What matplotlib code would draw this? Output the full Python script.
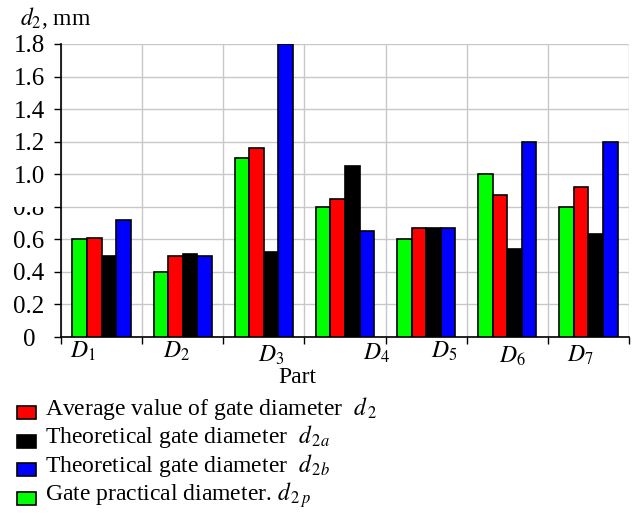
import matplotlib
matplotlib.use('Agg')
from matplotlib import pyplot as plt
from matplotlib.patches import Rectangle
from matplotlib.transforms import Bbox
import numpy as np

parts = ['$D_1$', '$D_2$', '$D_3$', '$D_4$', '$D_5$', '$D_6$', '$D_7$']
# part label positions as drawn in the reference (category units, px below axis)
label_x = [-0.23, 0.93, 2.09, 3.39, 4.22, 5.06, 5.90]
label_dy = [21, 21, 25, 23, 21, 26, 25]

d2p = [0.60, 0.40, 1.10, 0.80, 0.60, 1.00, 0.80]   # green
d2 = [0.61, 0.50, 1.16, 0.85, 0.67, 0.87, 0.92]    # red
d2a = [0.50, 0.51, 0.52, 1.05, 0.67, 0.54, 0.63]   # black
d2b = [0.72, 0.50, 1.80, 0.65, 0.67, 1.20, 1.20]   # blue

yticks = [0, 0.2, 0.4, 0.6, 0.8, 1.0, 1.2, 1.4, 1.6, 1.8]
ytick_labels = ['0', '0.2', '0.4', '0.6', '0.8', '1.0', '1.2', '1.4', '1.6', '1.8']

legend_labels = ['Average value of gate diameter  $d_{\\,2}$',
                 'Theoretical gate diameter  $d_{\\,2a}$',
                 'Theoretical gate diameter  $d_{\\,2b}$',
                 'Gate practical diameter. $d_{\\,2\\,p}$']
legend_colors = ['#ff0000', '#000000', '#0000ff', '#00ff00']

plt.rcParams['font.family'] = ['Liberation Serif', 'DejaVu Serif']
plt.rcParams['mathtext.fontset'] = 'stix'

W, H = 633, 522
fig = plt.figure(figsize=(W / 100, H / 100), dpi=100)
ax = fig.add_axes([61 / W, 1 - 337 / H, 568 / W, 293 / H])

x = np.arange(len(parts))
w = 0.18
series = [(d2p, '#00ff00'), (d2, '#ff0000'), (d2a, '#000000'), (d2b, '#0000ff')]
for i, (vals, col) in enumerate(series):
    ax.bar(x + (i - 1.5) * w, vals, w, color=col, edgecolor='black',
           linewidth=1.2, zorder=3)

ax.set_xlim(-0.5, 6.5)
ax.set_ylim(0, 1.8)
ax.set_yticks(yticks, ytick_labels)
ax.tick_params(axis='y', length=5, width=1, pad=18, labelsize=18)
for lab in ax.get_yticklabels():
    lab.set_horizontalalignment('center')
    if lab.get_text() == '0.8':
        # the reference has the top of this label cut off at the grid line
        lab.set_clip_on(True)
        lab.set_clip_box(Bbox.from_extents(0, 0, 60, H - 207))

ax.set_xticks(np.arange(-0.5, 7, 1))
ax.set_xticklabels([])
ax.tick_params(axis='x', length=5, width=1)

ax.grid(True, color='#c8c8c8', linewidth=1, zorder=0)
ax.set_axisbelow(True)
for s in ['top', 'right']:
    ax.spines[s].set_visible(False)
for s in ['left', 'bottom']:
    ax.spines[s].set_linewidth(1.2)

trans = ax.get_xaxis_transform()
for lx, dy, name in zip(label_x, label_dy, parts):
    ax.annotate(name, xy=(lx, 0), xycoords=trans, xytext=(0, -dy * 0.72),
                textcoords='offset points', ha='center', va='baseline',
                fontsize=17)

fig.text(297 / W, 1 - 383 / H, 'Part', ha='center', va='baseline', fontsize=17)
fig.text(20 / W, 1 - 25 / H, '$d_2$, mm', ha='left', va='baseline', fontsize=17)

# legend drawn below the chart
for k, (lab, col) in enumerate(zip(legend_labels, legend_colors)):
    base = 415 + k * 28.5
    fig.patches.append(Rectangle((17 / W, 1 - (base + 4) / H), 19 / W, 13 / H,
                                 transform=fig.transFigure, facecolor=col,
                                 edgecolor='black', linewidth=1.2))
    fig.text(45 / W, 1 - base / H, lab, ha='left', va='baseline', fontsize=17)

fig.savefig('out.png', dpi=100)
